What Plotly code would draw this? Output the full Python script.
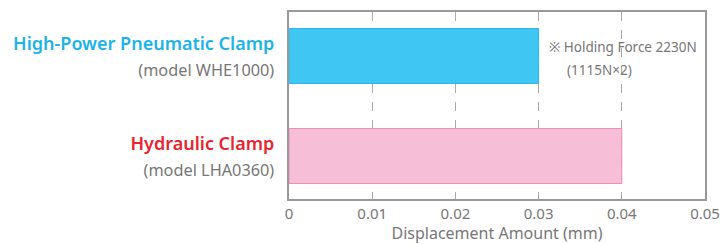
import plotly.graph_objects as go

categories = ["High-Power Pneumatic Clamp", "Hydraulic Clamp"]
models = ["(model WHE1000)", "(model LHA0360)"]
displacement = [0.03, 0.04]
name_colors = ["#1BB3E8", "#E8242E"]
bar_fill = ["#40C6F2", "#F6BFD7"]
bar_line = ["#2DB6EA", "#EE8EB8"]
x_ticks = [0, 0.01, 0.02, 0.03, 0.04, 0.05]
x_ticklabels = ["0", "0.01", "0.02", "0.03", "0.04", "0.05"]
note_lines = ["※ Holding Force 2230N", "(1115N×2)"]
x_title = "Displacement Amount (mm)"

ticktext = [
    f'<span style="font-size:18px;color:{c};font-weight:600">{n}</span><br>'
    f'<span style="font-size:16.3px;color:#777777">{m}</span>'
    for n, m, c in zip(categories, models, name_colors)
]

fig = go.Figure()
fig.add_trace(go.Bar(
    x=displacement, y=categories, orientation="h",
    width=0.55,
    marker=dict(color=bar_fill, line=dict(color=bar_line, width=1)),
    hoverinfo="skip",
))

note_font = dict(size=13.5, color="#777777", family="Noto Sans")
fig.add_annotation(x=displacement[0], y=categories[0], xref="x", yref="y",
                   text=note_lines[0], showarrow=False, xanchor="left",
                   xshift=8, yshift=9, font=note_font)
fig.add_annotation(x=displacement[0], y=categories[0], xref="x", yref="y",
                   text=note_lines[1], showarrow=False, xanchor="left",
                   xshift=26, yshift=-14, font=note_font)

fig.update_layout(
    width=721, height=244,
    margin=dict(l=289, r=16, t=12, b=45),
    paper_bgcolor="white", plot_bgcolor="white",
    font=dict(family="Noto Sans", color="#777777", size=14),
    showlegend=False,
    xaxis=dict(
        range=[0, 0.05], tickvals=x_ticks, ticktext=x_ticklabels,
        showgrid=True, gridcolor="#AAAAAA", griddash="dash", gridwidth=1,
        zeroline=False, showline=True, linecolor="#999999", linewidth=1.5,
        mirror=True, ticks="", tickfont=dict(size=15, color="#777777"),
        title=dict(text=x_title, font=dict(size=16, color="#777777"), standoff=9),
        automargin=False,
    ),
    yaxis=dict(
        type="category", categoryorder="array", categoryarray=categories,
        tickvals=categories, ticktext=ticktext, tickfont=dict(size=20),
        range=[1.43, -0.44], showgrid=False, zeroline=False,
        showline=True, linecolor="#999999", linewidth=1.5, mirror=True,
        ticks="", ticklabelstandoff=9, automargin=False,
    ),
)

fig.write_html("out.html", config={"displayModeBar": False},
               post_script="document.body.style.margin='0';")
